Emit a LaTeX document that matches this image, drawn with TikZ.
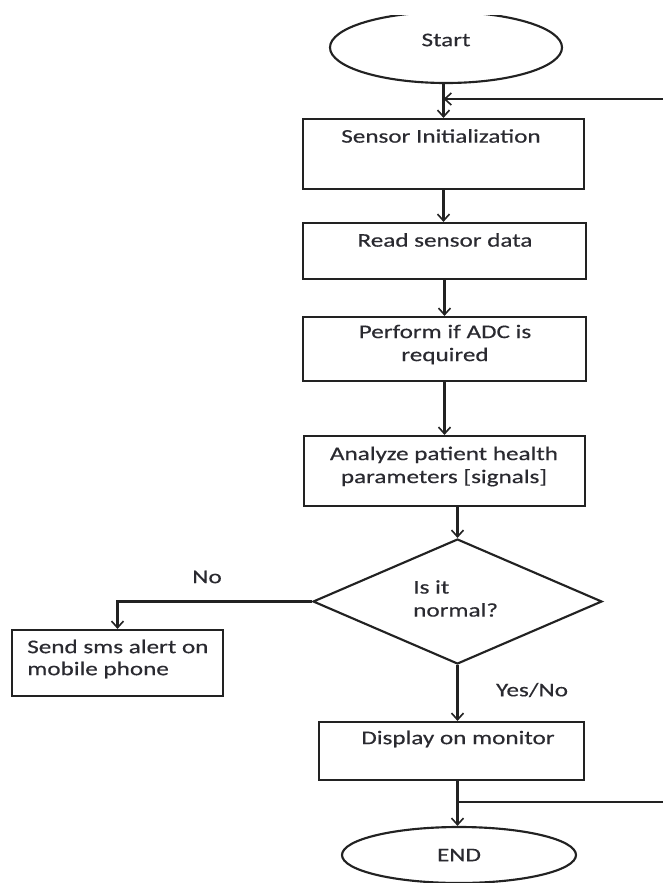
\documentclass[tikz,border=0pt]{standalone}
\usepackage{fontspec}
\setmainfont{Carlito}[FakeStretch=1.3,FakeBold=0.4]
\usetikzlibrary{shapes.geometric,arrows.meta}
\definecolor{ln}{HTML}{222222}
\definecolor{tx}{HTML}{2A2A30}
\tikzset{
  shp/.style={draw=ln, line width=1.6pt, inner sep=0pt, fill=white},
  boxshape/.style={shp, rectangle},
  lbl/.style={text=tx, font=\fontsize{14.5}{17.25}\selectfont, inner sep=0pt, align=center},
  arr/.style={draw=ln, line width=1.6pt, -{Straight Barb[length=5pt,width=9pt,line width=1.2pt]}},
  ln/.style={draw=ln, line width=1.5pt}
}
\begin{document}
\begin{tikzpicture}[x=0.75pt,y=-0.75pt]
\useasboundingbox (0,0) rectangle (663,883);
% Start
\begin{scope}
  \clip (0,15) rectangle (663,883);
  \node[shp, ellipse, minimum width=0.75pt*232, minimum height=0.75pt*71] (start) at (446,47.5) {};
\end{scope}
\node[lbl] (tstart) at (446,40) {Start};
% boxes
\node[boxshape, minimum width=0.75pt*281, minimum height=0.75pt*70] (sensor) at (443.5,154) {};
\node[lbl] (tsensor) at (441,136) {Sensor Initialization};
\node[boxshape, minimum width=0.75pt*283, minimum height=0.75pt*56] (read) at (444.5,251) {};
\node[lbl] (tread) at (445,240) {Read sensor data};
\node[boxshape, minimum width=0.75pt*283, minimum height=0.75pt*64] (perform) at (444.5,349) {};
\node[lbl] (tperform) at (445,344.5) {Perform if ADC is\\required};
\node[boxshape, minimum width=0.75pt*281, minimum height=0.75pt*70] (analyze) at (444.5,471) {};
\node[lbl] (tanalyze) at (444,466.5) {Analyze patient health\\parameters [signals]};
% decision
\node[shp, diamond, aspect=2.31, minimum width=0.75pt*289, minimum height=0.75pt*125] (dia) at (457.5,601.5) {};
\node[lbl, align=left, anchor=west] (tdia) at (413,598.5) {Is it\\normal?};
% send
\node[boxshape, minimum width=0.75pt*211, minimum height=0.75pt*66] (send) at (117.5,663) {};
\node[lbl, align=left, anchor=west, font=\fontsize{14.5}{16.5}\selectfont] (tsend) at (27,659) {Send sms alert on\\mobile phone};
% display
\node[boxshape, minimum width=0.75pt*265, minimum height=0.75pt*58] (display) at (451.5,751) {};
\node[lbl] (tdisplay) at (458,739) {Display on monitor};
% end
\node[shp, ellipse, minimum width=0.75pt*234, minimum height=0.75pt*56] (endn) at (459,855) {};
\node[lbl] (tend) at (459,855) {END};
% labels
\node[lbl] (lno) at (207,577) {No};
\node[lbl] (lyes) at (532,690) {Yes/No};
% connectors
\coordinate (rt) at (663,99);
\coordinate (rb) at (663,802);
\draw[arr] (start.south -| sensor.north) -- (sensor.north);
\draw[arr] (rt) -- (rt -| sensor.north);
\draw[arr] (sensor.south) -- (sensor.south |- read.north);
\draw[arr] (read.south) -- (read.south |- perform.north);
\draw[arr] (perform.south) -- (perform.south |- analyze.north);
\draw[arr] (dia.north |- analyze.south) -- (dia.north);
\draw[arr] (dia.west) -| (send.north);
\draw[arr] (dia.south) -- (dia.south |- display.north);
\draw[arr] (dia.south |- display.south) -- (dia.south |- endn.north);
\draw[ln] (rb) -- (rb -| dia.south);
\end{tikzpicture}
\end{document}
